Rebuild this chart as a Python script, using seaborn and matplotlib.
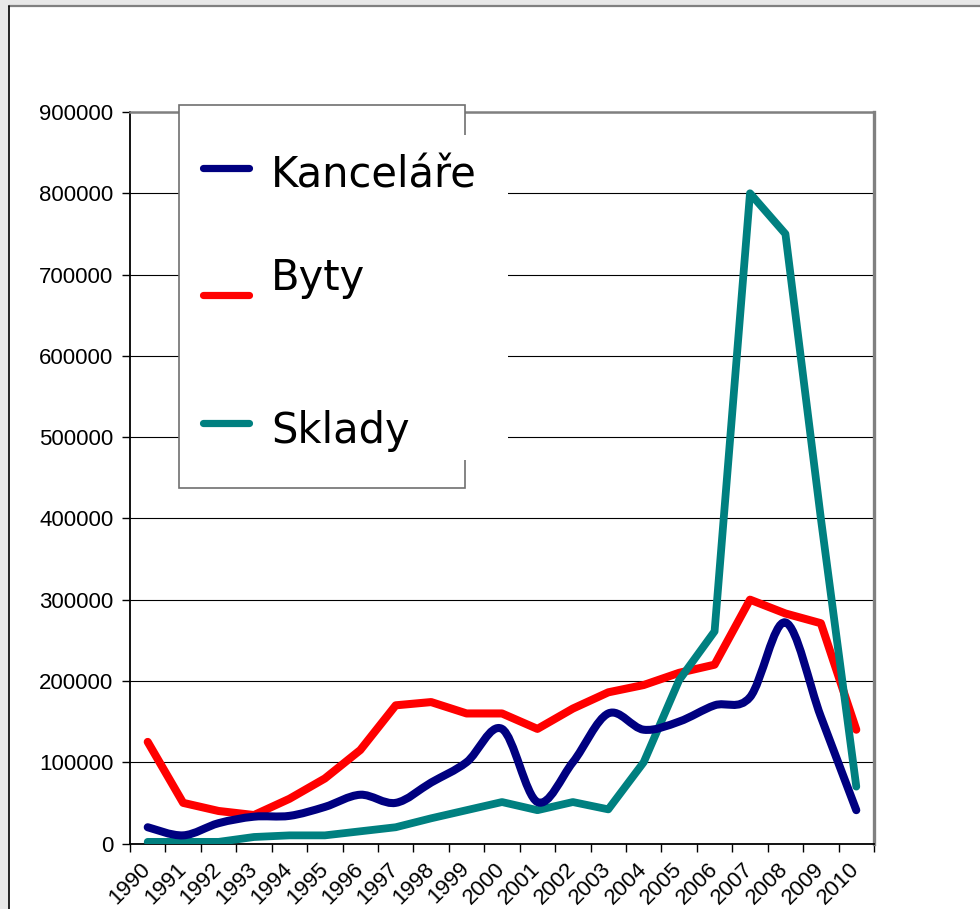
import numpy as np
import pandas as pd
import matplotlib
matplotlib.use("Agg")
import matplotlib.pyplot as plt
import seaborn as sns
from matplotlib.path import Path
from matplotlib.patches import PathPatch, Rectangle
from matplotlib.lines import Line2D
from matplotlib.ticker import FuncFormatter

# =============================================
# DATA
# =============================================
years = list(range(1990, 2011))
kancelare = [20000, 10000, 25000, 33000, 34000, 45000, 60000, 50000, 75000, 100000,
             141000, 51000, 100000, 160000, 140000, 150000, 170000, 180000, 272000, 156000, 41000]
byty = [125000, 50000, 40000, 35000, 55000, 80000, 115000, 170000, 174000, 160000,
        160000, 141000, 166000, 186000, 195000, 210000, 220000, 300000, 283000, 271000, 140000]
sklady = [2000, 2000, 2000, 8000, 10000, 10000, 15000, 20000, 31000, 41000,
          51000, 41000, 51000, 42000, 100000, 201000, 261000, 800000, 750000, 400000, 70000]
series_names = ["Kanceláře", "Byty", "Sklady"]
series_colors = ["#000080", "#FF0000", "#008080"]
y_ticks = list(range(0, 900001, 100000))

W, H = 980, 909


def fx(x):
    return x / W


def fy(y):
    return 1 - y / H


def smooth_path(xs, ys):
    # Excel-like smoothed line: Catmull-Rom as cubic Bezier segments
    xs = np.asarray(xs, float)
    ys = np.asarray(ys, float)
    pts = np.column_stack([xs, ys])
    n = len(pts)
    verts = [pts[0]]
    codes = [Path.MOVETO]
    for i in range(n - 1):
        p0 = pts[i - 1] if i > 0 else pts[i]
        p1 = pts[i]
        p2 = pts[i + 1]
        p3 = pts[i + 2] if i + 2 < n else pts[i + 1]
        c1 = p1 + (p2 - p0) / 6.0
        c2 = p2 - (p3 - p1) / 6.0
        verts += [c1, c2, p2]
        codes += [Path.CURVE4] * 3
    return Path(verts, codes)


# =============================================
# FIGURE
# =============================================
sns.set_style("white")
plt.rcParams['font.family'] = ['Liberation Sans', 'DejaVu Sans']
plt.rcParams['text.color'] = 'black'
plt.rcParams['xtick.color'] = 'black'
plt.rcParams['ytick.color'] = 'black'

fig = plt.figure(figsize=(W / 100, H / 100), dpi=100)
fig.patch.set_facecolor("#e8e8e8")

# white page with frame
fig.add_artist(Rectangle((fx(9), 0), 1 - fx(9), fy(6), transform=fig.transFigure,
                         facecolor="white", edgecolor="none", zorder=-2))
fig.add_artist(Line2D([fx(9), 1], [fy(6), fy(6)], transform=fig.transFigure,
                      color="#808080", lw=1.6, zorder=-1))
fig.add_artist(Line2D([fx(9), fx(9)], [0, fy(6)], transform=fig.transFigure,
                      color="black", lw=1.2, zorder=-1))

left, right, top, bottom = 130, 874, 112, 843.5
ax = fig.add_axes([fx(left), fy(bottom), fx(right - left), (bottom - top) / H])
ax.set_facecolor("white")

df = pd.DataFrame({"year": years, "Byty": byty, "Sklady": sklady})
sns.lineplot(data=df, x="year", y="Byty", color=series_colors[1], linewidth=5.8,
             solid_capstyle="round", ax=ax, zorder=3)
sns.lineplot(data=df, x="year", y="Sklady", color=series_colors[2], linewidth=5.6,
             solid_capstyle="round", ax=ax, zorder=4)
ax.add_patch(PathPatch(smooth_path(years, kancelare), facecolor="none",
                       edgecolor=series_colors[0], lw=5.8, capstyle="round",
                       joinstyle="round", zorder=5))

ax.set_xlim(years[0] - 0.5, years[-1] + 0.5)
ax.set_ylim(0, 900000)
ax.set_yticks(y_ticks)
ax.yaxis.set_major_formatter(FuncFormatter(lambda v, p: f"{int(v)}"))
ax.set_xticks([y - 0.5 for y in years] + [years[-1] + 0.5])
ax.set_xticklabels([])
ax.set_xticks(years, minor=True)
ax.set_xticklabels([str(y) for y in years], minor=True, rotation=45,
                   ha="right", va="center", rotation_mode="anchor")
ax.set_xlabel("")
ax.set_ylabel("")

ax.grid(axis="y", color="black", lw=0.8, zorder=1)
ax.grid(axis="x", visible=False)
ax.set_axisbelow(True)

ax.tick_params(axis="y", which="major", direction="out", length=6, width=1,
               color="black", labelcolor="black", labelsize=16, pad=6, left=True)
ax.tick_params(axis="x", which="major", direction="out", length=6, width=1,
               color="black", bottom=True)
ax.tick_params(axis="x", which="minor", length=0, labelsize=16, labelcolor="black",
               pad=16, bottom=True)

for side in ["left", "bottom"]:
    ax.spines[side].set_color("black")
    ax.spines[side].set_linewidth(1.3)
ax.spines["top"].set_color("#808080")
ax.spines["top"].set_linewidth(1.8)
ax.spines["right"].set_color("#808080")
ax.spines["right"].set_linewidth(2.4)

# =============================================
# LEGEND (drawn by hand, like the original)
# =============================================
bx0, bx1, by0, by1 = 179, 465, 105, 488
fig.add_artist(Rectangle((fx(bx0), fy(by1)), fx(bx1 - bx0), (by1 - by0) / H,
                         transform=fig.transFigure, facecolor="white",
                         edgecolor="#707070", lw=1.2, zorder=5))
fig.add_artist(Rectangle((fx(bx0 + 2), fy(460)), fx(508 - bx0 - 2), (460 - 135) / H,
                         transform=fig.transFigure, facecolor="white",
                         edgecolor="none", zorder=6))

legend_line_y = [168, 295, 423]
legend_text_y = [188, 290, 443]
for name, col, ly, ty in zip(series_names, series_colors, legend_line_y, legend_text_y):
    fig.add_artist(Line2D([fx(203), fx(249)], [fy(ly), fy(ly)], transform=fig.transFigure,
                          color=col, lw=5.2, solid_capstyle="round", zorder=7))
    fig.text(fx(271), fy(ty), name, fontsize=30, family=["DejaVu Sans"], color="black",
             ha="left", va="baseline", zorder=8)

fig.savefig("out.png", dpi=100, facecolor=fig.get_facecolor())
